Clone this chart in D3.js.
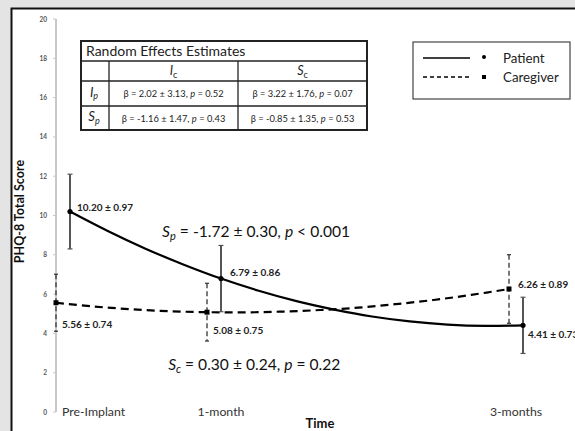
<!DOCTYPE html>
<html><head><meta charset="utf-8">
<script src="https://cdn.jsdelivr.net/npm/d3@7"></script>
<style>
html,body{margin:0;padding:0;background:#e4e4e4;}
svg{display:block;}
text{font-family:Lato,"Open Sans",sans-serif;}
</style></head>
<body><svg id="c" width="575" height="431"></svg>
<script>
// ---- data ----
const timePoints = [0, 1, 3];                       // months
const timeLabels = ["Pre-Implant", "1-month", "3-months"];
const patientMean = [10.20, 6.79, 4.41];
const patientSE   = [0.97, 0.86, 0.73];
const caregiverMean = [5.56, 5.08, 6.26];
const caregiverSE   = [0.74, 0.75, 0.89];
// fitted trajectories
const fitTimes     = [0, 0.25, 0.5, 0.75, 1, 1.25, 1.5, 1.75, 2, 2.25, 2.5, 2.75, 3];
const patientFit   = [10.20, 9.21, 8.31, 7.51, 6.79, 6.17, 5.64, 5.21, 4.86, 4.61, 4.45, 4.38, 4.41];
const caregiverFit = [5.56, 5.37, 5.23, 5.13, 5.08, 5.07, 5.11, 5.19, 5.31, 5.49, 5.70, 5.96, 6.26];
const yTicks = [0, 2, 4, 6, 8, 10, 12, 14, 16, 18, 20];
const tableTitle = "Random Effects Estimates";
const tableCols = ["c", "c"];       // I_c, S_c
const tableColLetters = ["I", "S"];
const tableRowLetters = ["I", "S"];
const tableCells = [
  ["β = 2.02 ± 3.13, ", "0.52", "β = 3.22 ± 1.76, ", "0.07"],
  ["β = -1.16 ± 1.47, ", "0.43", "β = -0.85 ± 1.35, ", "0.53"]
];
const slopePatient = ["-1.72 ± 0.30, ", "< 0.001"];
const slopeCaregiver = ["0.30 ± 0.24, ", "= 0.22"];
const legendNames = ["Patient", "Caregiver"];

// ---- setup ----
const svg = d3.select("#c");
svg.append("rect").attr("x", 11.5).attr("y", 8.5).attr("width", 600).attr("height", 450)
  .attr("fill", "#fff").attr("stroke", "#111").attr("stroke-width", 2);

const x = d3.scaleLinear().domain([0, 3]).range([70, 523]);
const y = d3.scaleLinear().domain([0, 20]).range([412, 19]);
const cgOff = -14;

// y axis
const axisX = 56;
svg.append("line").attr("x1", axisX).attr("x2", axisX).attr("y1", y(20)).attr("y2", y(0))
  .attr("stroke", "#c8c8c8").attr("stroke-width", 2);
const ga = svg.append("g");
ga.selectAll("line.t").data(yTicks).join("line")
  .attr("x1", axisX - 3).attr("x2", axisX).attr("y1", d => y(d)).attr("y2", d => y(d))
  .attr("stroke", "#c8c8c8").attr("stroke-width", 1);
ga.selectAll("text").data(yTicks).join("text")
  .attr("x", 47).attr("y", d => y(d) + 2.5).attr("text-anchor", "end")
  .attr("font-size", 6.5).attr("font-weight", "bold").attr("fill", "#555")
  .text(d => d);

svg.append("text").attr("transform", `translate(24,${y(10.2)}) rotate(-90)`)
  .attr("text-anchor", "middle").attr("font-size", 12.5).attr("font-weight", "bold")
  .attr("font-family", "Liberation Sans, Arial, sans-serif").attr("fill", "#111")
  .text("PHQ-8 Total Score");

// x labels
svg.append("g").selectAll("text").data(timePoints).join("text")
  .attr("x", (d, i) => i === 0 ? x(d) - 8 : x(d) - (i === 2 ? 7 : 0))
  .attr("y", 416).attr("text-anchor", (d, i) => i === 0 ? "start" : "middle")
  .attr("font-size", 12.3).attr("fill", "#333")
  .text((d, i) => timeLabels[i]);
svg.append("text").attr("x", 320).attr("y", 428).attr("text-anchor", "middle")
  .attr("font-size", 13).attr("font-weight", "bold").attr("fill", "#111").text("Time");

// fitted curves
const line = d3.line().curve(d3.curveCatmullRom);
svg.append("path")
  .attr("d", line(fitTimes.map((t, i) => [x(t), y(patientFit[i])])))
  .attr("fill", "none").attr("stroke", "#000").attr("stroke-width", 2.2);
svg.append("path")
  .attr("d", line(fitTimes.map((t, i) => [x(t) + cgOff, y(caregiverFit[i])])))
  .attr("fill", "none").attr("stroke", "#000").attr("stroke-width", 2.2)
  .attr("stroke-dasharray", "8,5");

// error bars
function errBars(means, ses, off, color, width, dash, cap) {
  const g = svg.append("g");
  timePoints.forEach((t, i) => {
    const lo = means[i] - 1.96 * ses[i], hi = means[i] + 1.96 * ses[i];
    const cx = x(t) + off;
    g.append("line").attr("x1", cx).attr("x2", cx).attr("y1", y(hi)).attr("y2", y(lo))
      .attr("stroke", color).attr("stroke-width", width).attr("stroke-dasharray", dash);
    [hi, lo].forEach(v => g.append("line").attr("x1", cx - cap).attr("x2", cx + cap)
      .attr("y1", y(v)).attr("y2", y(v)).attr("stroke", color).attr("stroke-width", 1.2));
  });
}
errBars(patientMean, patientSE, 0, "#555", 2, null, 2.5);
errBars(caregiverMean, caregiverSE, cgOff, "#333", 1.3, "5,3", 2);

// points
svg.append("g").selectAll("circle").data(timePoints).join("circle")
  .attr("cx", d => x(d)).attr("cy", (d, i) => y(patientMean[i])).attr("r", 2.6).attr("fill", "#000");
svg.append("g").selectAll("rect").data(timePoints).join("rect")
  .attr("x", d => x(d) + cgOff - 2.5).attr("y", (d, i) => y(caregiverMean[i]) - 2.5)
  .attr("width", 5).attr("height", 5).attr("fill", "#000");

// value labels
const pOff = [[7, -1], [9, -3], [5, 13]];
const cOff = [[6, 25], [6, 22], [9, -1]];
function valLabels(means, ses, off, offs) {
  svg.append("g").selectAll("text").data(timePoints).join("text")
    .attr("x", (d, i) => x(d) + off + offs[i][0]).attr("y", (d, i) => y(means[i]) + offs[i][1])
    .attr("font-size", 10).attr("font-weight", "bold").attr("fill", "#222")
    .text((d, i) => means[i].toFixed(2) + " ± " + ses[i].toFixed(2));
}
valLabels(patientMean, patientSE, 0, pOff);
valLabels(caregiverMean, caregiverSE, cgOff, cOff);

// slope annotations
function slopeText(px, py, sub, parts) {
  const t = svg.append("text").attr("x", px).attr("y", py).attr("font-size", 15.6).attr("fill", "#111");
  t.append("tspan").attr("font-style", "italic").text("S");
  t.append("tspan").attr("font-style", "italic").attr("font-size", 11).attr("dy", 3).text(sub);
  t.append("tspan").attr("dy", -3).text(" = " + parts[0]);
  t.append("tspan").attr("font-style", "italic").text("p");
  t.append("tspan").text(" " + parts[1]);
}
slopeText(x(0.61), y(8.9), "p", slopePatient);
slopeText(x(0.65), y(2.15), "c", slopeCaregiver);

// table
const tx = [81, 109, 238, 367];
const ty = [41, 61, 81, 106, 130];
const tg = svg.append("g");
tg.append("rect").attr("x", tx[0]).attr("y", ty[0]).attr("width", tx[3] - tx[0]).attr("height", ty[4] - ty[0])
  .attr("fill", "#fff").attr("stroke", "#222").attr("stroke-width", 2);
ty.slice(1, 4).forEach(v => tg.append("line").attr("x1", tx[0]).attr("x2", tx[3]).attr("y1", v).attr("y2", v)
  .attr("stroke", "#222").attr("stroke-width", 1.3));
tx.slice(1, 3).forEach(v => tg.append("line").attr("x1", v).attr("x2", v).attr("y1", ty[1]).attr("y2", ty[4])
  .attr("stroke", "#222").attr("stroke-width", 1.3));
tg.append("text").attr("x", tx[0] + 5).attr("y", 56).attr("font-size", 14).attr("fill", "#222").text(tableTitle);
tableColLetters.forEach((L, j) => {
  const t = tg.append("text").attr("x", (tx[j + 1] + tx[j + 2]) / 2).attr("y", 75)
    .attr("text-anchor", "middle").attr("font-size", 12.5).attr("fill", "#222").attr("font-style", "italic");
  t.append("tspan").text(L);
  t.append("tspan").attr("font-size", 9).attr("dy", 2.5).attr("font-style", "normal").text(tableCols[j]);
});
tableRowLetters.forEach((L, i) => {
  const t = tg.append("text").attr("x", (tx[0] + tx[1]) / 2 - 1).attr("y", (ty[i + 2] + ty[i + 3]) / 2 + 3)
    .attr("text-anchor", "middle").attr("font-size", 13).attr("fill", "#222").attr("font-style", "italic");
  t.append("tspan").text(L);
  t.append("tspan").attr("font-size", 9).attr("dy", 2.5).text("p");
  [0, 1].forEach(j => {
    const ct = tg.append("text").attr("x", (tx[j + 1] + tx[j + 2]) / 2).attr("y", (ty[i + 2] + ty[i + 3]) / 2 + 3.5)
      .attr("text-anchor", "middle").attr("font-size", 9.3).attr("fill", "#222");
    ct.append("tspan").text(tableCells[i][j * 2]);
    ct.append("tspan").attr("font-style", "italic").text("p");
    ct.append("tspan").text(" = " + tableCells[i][j * 2 + 1]);
  });
});

// legend
const lg = svg.append("g");
lg.append("rect").attr("x", 413).attr("y", 42).attr("width", 157).attr("height", 57)
  .attr("fill", "#fff").attr("stroke", "#444").attr("stroke-width", 1.2);
legendNames.forEach((n, i) => {
  const ly = 58 + i * 19;
  lg.append("line").attr("x1", 423).attr("x2", 470).attr("y1", ly).attr("y2", ly)
    .attr("stroke", "#000").attr("stroke-width", 1.3).attr("stroke-dasharray", i ? "4,3" : null);
  if (i === 0) lg.append("circle").attr("cx", 484).attr("cy", ly - 1).attr("r", 2).attr("fill", "#000");
  else lg.append("rect").attr("x", 482).attr("y", ly - 2).attr("width", 4).attr("height", 4).attr("fill", "#000");
  lg.append("text").attr("x", 503).attr("y", ly + 4.5).attr("font-size", 13.3).attr("fill", "#222").text(n);
});
</script></body></html>
